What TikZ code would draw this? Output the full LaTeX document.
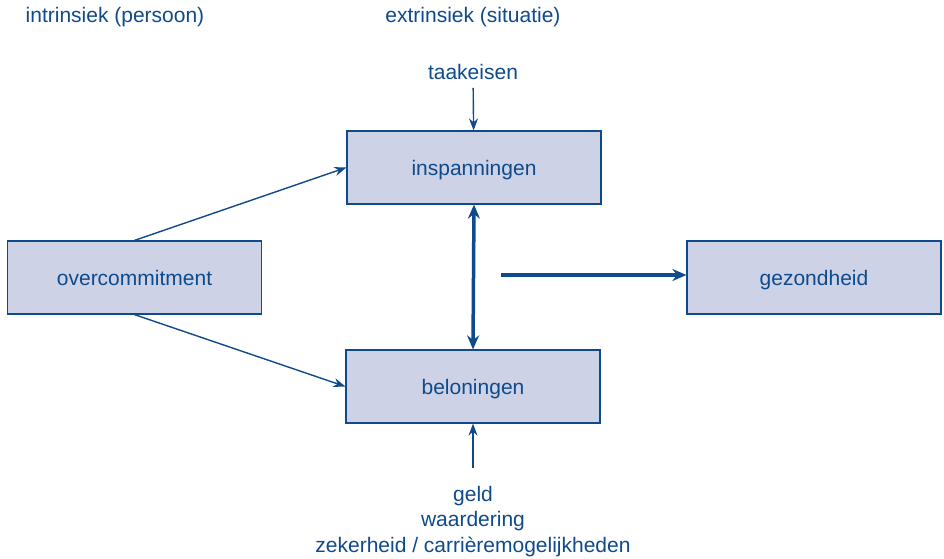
\documentclass[tikz,border=0pt]{standalone}
\usepackage{fontspec}
\setmainfont{Liberation Sans}
\usetikzlibrary{arrows.meta}
\definecolor{ink}{RGB}{14,74,140}
\definecolor{boxfill}{RGB}{205,210,230}

\begin{document}
\begin{tikzpicture}[x=1pt, y=-1pt, >={Stealth[length=12pt,width=9pt]},
    % box with the factors
    box/.style={
        draw=ink,
        fill=boxfill,
        line width=1.2pt,
        minimum width=254pt,
        minimum height=73pt,
        text height=16pt,
        text depth=0pt,
        text=ink,
        font=\fontsize{21}{25.5}\selectfont
    },
    % thin arrow
    arrow/.style={->, line width=1.4pt, draw=ink},
    % thick arrow
    bigarrow/.style={line width=3.5pt, draw=ink, >={Stealth[length=14pt,width=12pt]}},
    % plain text without frame
    text_node/.style={
        align=center,
        inner sep=0pt,
        text=ink,
        font=\fontsize{21}{25.5}\selectfont
    }
]
    \useasboundingbox (0,0) rectangle (944,558);

    % ================== headers ==================
    \node[text_node] (intr_head) at (115, 17) {intrinsiek (persoon)};
    \node[text_node] (extr_head) at (473, 17) {extrinsiek (situatie)};

    % ================== boxes ==================
    \node[box] (overc) at (134.5, 277.5) {overcommitment};
    \node[box] (insp) at (474, 167.5) {inspanningen};
    \node[box] (belo) at (473, 386.5) {beloningen};
    \node[box] (gezond) at (814, 277.5) {gezondheid};

    % sources
    \node[text_node] (taak) at (473, 72) {taakeisen};
    \node[text_node, anchor=north] (belo_src) at (473, 486) {geld\\waardering\\zekerheid / carrièremogelijkheden};

    % ================== connections ==================
    \draw[arrow, shorten <=8pt] (taak) -- (insp);
    \draw[arrow, shorten <=18pt] (belo_src.north) -- (belo.south);
    \draw[arrow] (overc.north) -- (insp.west);
    \draw[arrow] (overc.south) -- (belo.west);

    % balance between efforts and rewards
    \draw[bigarrow, <->] (insp.south) -- (belo.north);

    % effect on health
    \coordinate (balance_out) at (501, 275);
    \draw[bigarrow, ->] (balance_out) -- (balance_out -| gezond.west);

\end{tikzpicture}
\end{document}
